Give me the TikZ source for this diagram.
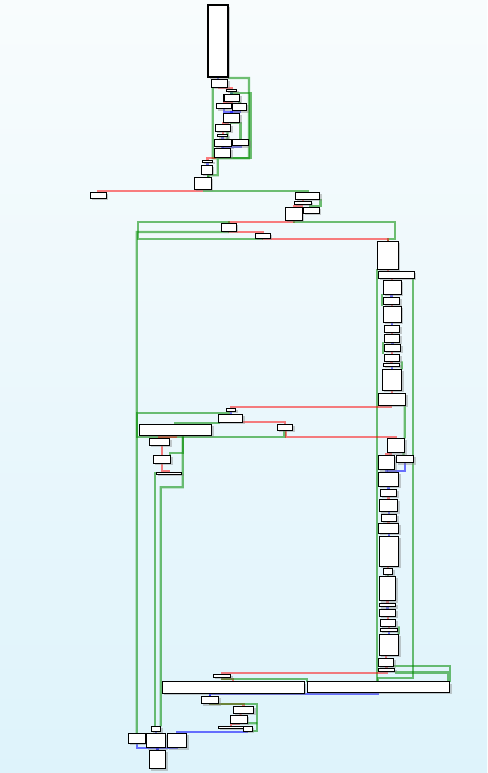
\documentclass[tikz,border=0pt]{standalone}
\usetikzlibrary{shadows}
\definecolor{bgtop}{RGB}{248,252,253}
\definecolor{bgbot}{RGB}{222,243,251}
\definecolor{tkgreen}{RGB}{0,140,0}
\definecolor{ntred}{RGB}{255,0,0}
\definecolor{jpblue}{RGB}{0,0,255}
\pgfdeclarelayer{back}
\pgfdeclarelayer{wires}
\pgfsetlayers{back,wires,main}
\begin{document}
\begin{tikzpicture}[x=1mm,y=-1mm,
  bb/.style={draw=black, line width=1.1mm, fill=white, inner sep=0pt, outer sep=0pt, anchor=north west,
    drop shadow={shadow xshift=2mm, shadow yshift=-2mm, opacity=0.4}},
  jt/.style={draw=tkgreen, draw opacity=0.55, line width=2.3mm},
  jf/.style={draw=ntred, draw opacity=0.5, line width=2.3mm},
  jb/.style={draw=jpblue, draw opacity=0.55, line width=2.3mm}]

% Background and size
\begin{pgfonlayer}{back}
\shade[top color=bgtop, bottom color=bgbot] (0,0) rectangle (487,773);
\end{pgfonlayer}
\useasboundingbox (0,0) rectangle (487,773);

% Draw the blocks
\node[bb, minimum width=20mm, minimum height=72mm] (b1) at (208,5) {};
\node[bb, minimum width=16.4mm, minimum height=8mm] (b2) at (211.3,79.3) {};
\node[bb, minimum width=10.4mm, minimum height=2mm] (b3) at (226.3,89.3) {};
\node[bb, minimum width=15.7mm, minimum height=7.4mm] (b4) at (224,94.3) {};
\node[bb, minimum width=15mm, minimum height=5.4mm] (b5) at (216.3,103.3) {};
\node[bb, minimum width=14.4mm, minimum height=7.4mm] (b6) at (232.3,103.3) {};
\node[bb, minimum width=16.4mm, minimum height=9mm] (b7) at (223.3,113.3) {};
\node[bb, minimum width=15.4mm, minimum height=7mm] (b8) at (215.3,124.3) {};
\node[bb, minimum width=10.4mm, minimum height=2.4mm] (b9) at (217.3,134.3) {};
\node[bb, minimum width=17.4mm, minimum height=7.4mm] (b10) at (214.3,139.3) {};
\node[bb, minimum width=16.4mm, minimum height=6.4mm] (b11) at (232.3,139.3) {};
\node[bb, minimum width=16.4mm, minimum height=9mm] (b12) at (214.3,148.3) {};
\node[bb, minimum width=10.4mm, minimum height=2mm] (b13) at (202.3,160.3) {};
\node[bb, minimum width=11mm, minimum height=9mm] (b14) at (201.3,165.3) {};
\node[bb, minimum width=17mm, minimum height=12mm] (b15) at (194.3,177.3) {};
\node[bb, minimum width=16mm, minimum height=6mm] (b16) at (90.3,192.3) {};
\node[bb, minimum width=24.2mm, minimum height=7mm] (b17) at (295.3,192.3) {};
\node[bb, minimum width=17mm, minimum height=3mm] (b18) at (294.3,201.3) {};
\node[bb, minimum width=17mm, minimum height=13mm] (b19) at (285.3,207.3) {};
\node[bb, minimum width=16mm, minimum height=6mm] (b20) at (303.3,207.3) {};
\node[bb, minimum width=15mm, minimum height=8mm] (b21) at (221.3,223.3) {};
\node[bb, minimum width=15mm, minimum height=5mm] (b22) at (255.3,233.3) {};
\node[bb, minimum width=21mm, minimum height=28mm] (b23) at (377.3,241.3) {};
\node[bb, minimum width=36mm, minimum height=7mm] (b24) at (378.3,271.3) {};
\node[bb, minimum width=18mm, minimum height=14mm] (b25) at (383.3,280.3) {};
\node[bb, minimum width=16.4mm, minimum height=7mm] (b26) at (383.3,297.3) {};
\node[bb, minimum width=18mm, minimum height=16mm] (b27) at (383.3,306.3) {};
\node[bb, minimum width=15.4mm, minimum height=7mm] (b28) at (384.3,325.3) {};
\node[bb, minimum width=15.4mm, minimum height=8mm] (b29) at (384.3,334.3) {};
\node[bb, minimum width=16.4mm, minimum height=7mm] (b30) at (384.3,344.3) {};
\node[bb, minimum width=15.4mm, minimum height=7mm] (b31) at (384.3,354.3) {};
\node[bb, minimum width=16.4mm, minimum height=3mm] (b32) at (383.3,363.3) {};
\node[bb, minimum width=19.4mm, minimum height=21mm] (b33) at (382.3,369.3) {};
\node[bb, minimum width=27.4mm, minimum height=12mm] (b34) at (378.3,393.3) {};
\node[bb, minimum width=17.4mm, minimum height=14.4mm] (b35) at (387.3,438.3) {};
\node[bb, minimum width=9.4mm, minimum height=3mm] (b36) at (226.3,408.3) {};
\node[bb, minimum width=24.4mm, minimum height=8mm] (b37) at (218.3,414.3) {};
\node[bb, minimum width=72.4mm, minimum height=11mm] (b38) at (139.3,424.3) {};
\node[bb, minimum width=15.4mm, minimum height=6mm] (b39) at (277.3,424.3) {};
\node[bb, minimum width=20.4mm, minimum height=7mm] (b40) at (149.3,438.3) {};
\node[bb, minimum width=17.4mm, minimum height=8mm] (b41) at (153.3,455.3) {};
\node[bb, minimum width=25.4mm, minimum height=2mm] (b42) at (156.3,472.3) {};
\node[bb, minimum width=16.4mm, minimum height=14.4mm] (b43) at (378.3,455.3) {};
\node[bb, minimum width=17.4mm, minimum height=7.4mm] (b44) at (396.3,455.3) {};
\node[bb, minimum width=20.4mm, minimum height=14mm] (b45) at (378.3,472.3) {};
\node[bb, minimum width=16.4mm, minimum height=7mm] (b46) at (380.3,489.3) {};
\node[bb, minimum width=18.4mm, minimum height=12.4mm] (b47) at (379.3,499.3) {};
\node[bb, minimum width=15.4mm, minimum height=7.4mm] (b63) at (381.3,514.3) {};
\node[bb, minimum width=20.4mm, minimum height=10mm] (b64) at (378.3,523.3) {};
\node[bb, minimum width=19.4mm, minimum height=30mm] (b65) at (379.3,536.3) {};
\node[bb, minimum width=9.4mm, minimum height=6mm] (b66) at (383.3,568.3) {};
\node[bb, minimum width=16.4mm, minimum height=24.4mm] (b67) at (379.3,576.3) {};
\node[bb, minimum width=16.4mm, minimum height=3.4mm] (b68) at (379.3,603.3) {};
\node[bb, minimum width=16.4mm, minimum height=7mm] (b69) at (379.3,609.3) {};
\node[bb, minimum width=15.4mm, minimum height=7mm] (b70) at (380.3,619.3) {};
\node[bb, minimum width=17.4mm, minimum height=3mm] (b71) at (380.3,628.3) {};
\node[bb, minimum width=19.4mm, minimum height=21mm] (b72) at (379.3,634.3) {};
\node[bb, minimum width=15.4mm, minimum height=8mm] (b61) at (378.3,658.3) {};
\node[bb, minimum width=16.4mm, minimum height=3mm] (b62) at (378.3,668.3) {};
\node[bb, minimum width=17.4mm, minimum height=3mm] (b49) at (213.3,674.3) {};
\node[bb, minimum width=142mm, minimum height=11.6mm] (b50) at (162.3,681.7) {};
\node[bb, minimum width=142.4mm, minimum height=10.6mm] (b51) at (307.3,681.7) {};
\node[bb, minimum width=17.4mm, minimum height=7.4mm] (b52) at (201.3,696.3) {};
\node[bb, minimum width=20.4mm, minimum height=7mm] (b53) at (233.3,706.3) {};
\node[bb, minimum width=17mm, minimum height=8mm] (b54) at (230.3,715.3) {};
\node[bb, minimum width=25mm, minimum height=2mm] (b55) at (218.3,726.3) {};
\node[bb, minimum width=9mm, minimum height=5mm] (b56) at (243.3,726.3) {};
\node[bb, minimum width=9.4mm, minimum height=5.4mm] (b48) at (151.3,726.3) {};
\node[bb, minimum width=17mm, minimum height=10mm] (b57) at (128.3,733.3) {};
\node[bb, minimum width=19.4mm, minimum height=14.4mm] (b58) at (146.3,733.3) {};
\node[bb, minimum width=19.4mm, minimum height=14.4mm] (b59) at (167.3,733.3) {};
\node[bb, minimum width=16.4mm, minimum height=18.4mm] (b60) at (149.3,750.3) {};

% Draw the jumps
\begin{pgfonlayer}{wires}
% top cluster
\coordinate (j1) at (217.7,158.3);
\draw[jb] (b1.south) -- (b1.south |- b2.north);
\draw[jt] (b1.south east) ++(0,1) -- (249,78) -- (249,158.3) -- (j1) |- (208.3,175.3) -- ([xshift=5.5mm]b15.north);
\draw[jt] ([xshift=1.4mm]b2.south west) -- (212.7,158.3) -- (j1);
\draw[jf] (b2.south) |- ([yshift=1mm]b3.north) -- (b3.north);
\draw[jb] (b3.south) -- (b3.south |- b4.north);
\draw[jt] (b3.south) |- (250.5,93.3) -- (250.5,158.3) -- (j1);
\draw[jf] (b4.south) |- ([yshift=0.8mm]b5.north) -- (b5.north);
\draw[jt] (b6.north |- b4.south) -- (b6.north);
\draw[jb] (b5.south) |- ([yshift=1.6mm]b7.north) -- (b7.north);
\draw[jb] (b6.south) |- ([yshift=1.6mm]b7.north) -- (b7.north);
\draw[jf] ([xshift=-4mm]b7.south) |- ([yshift=1mm]b8.north) -- (b8.north);
\draw[jt] (b7.south) |- ([yshift=16mm]b11.north) -- (b11.north);
\draw[jf] (b8.south) -- (b8.south |- b9.north);
\draw[jt] ([xshift=4.5mm]b8.south) -- ([xshift=4.5mm]b10.north);
\draw[jb] (b9.south) -- (b9.south |- b10.north);
\draw[jb] (b10.south) -- (b10.south |- b12.north);
\draw[jb] (b11.south) |- ([yshift=1mm]b12.north) -- (b12.north);
\draw[jf] ([xshift=1mm]b12.south west) |- ([yshift=2mm]b13.north) -- (b13.north);
\draw[jb] (b13.south) -- (b13.south |- b14.north);
\draw[jt] ([xshift=1.5mm]b14.south) -- ([xshift=5.5mm]b15.north);
% middle
\draw[jf] ([xshift=-1mm]b15.south) |- ([yshift=1.6mm]b16.north) -- (b16.north);
\draw[jt] ([xshift=1.5mm]b15.south) |- ([yshift=1.6mm]b17.north) -- (b17.north);
\draw[jf] (b18.north |- b17.south) -- (b18.north);
\draw[jt] ([xshift=1mm]b17.south east) |- ([xshift=-1.3mm,yshift=1.3mm]b20.north) -- ([xshift=-1.3mm]b20.north);
\draw[jf] ([xshift=-1mm]b18.south) |- ([yshift=1.3mm]b19.north) -- (b19.north);
\draw[jf] (b19.south) |- ([yshift=1.3mm]b21.north) -- (b21.north);
\draw[jt] (b19.south) |- (395,222) |- ([yshift=2.6mm]b23.north) -- (b23.north);
\draw[jf] (b21.south) |- ([yshift=1.3mm]b22.north) -- (b22.north);
\draw[jf] (b22.south) |- ([yshift=2.6mm]b23.north) -- (b23.north);
\draw[jt] ([xshift=-1mm]b22.south) |- (138.3,238.7) |- ([yshift=1.3mm]b21.north) -- (b21.north);
\draw[jt] ([xshift=-1mm]b21.south) |- (136.8,232) -- (b57.north);
% right column
\draw[jf] (b23.south) -- (b23.south |- b24.north);
\draw[jt] (b23.south west) -- (b23.south west |- b51.north);
\draw[jt] ([xshift=-1mm]b24.south east) |- ([xshift=71mm,yshift=3.4mm]b51.north west) -- ([xshift=71mm]b51.north west);
\draw[jf] (b25.north |- b24.south) -- (b25.north);
\draw[jb] (b26.north |- b25.south) -- (b26.north);
\draw[jf] (b27.north |- b26.south) -- (b27.north);
\draw[jb] (b28.north |- b27.south) -- (b28.north);
\draw[jf] (b29.north |- b28.south) -- (b29.north);
\draw[jb] (b30.north |- b29.south) -- (b30.north);
\draw[jf] (b31.north |- b30.south) -- (b31.north);
\draw[jf] (b32.north |- b31.south) -- (b32.north);
\draw[jb] (b33.north |- b32.south) -- (b33.north);
\draw[jf] (b34.north |- b33.south) -- (b34.north);
\draw[jt] ([xshift=-1mm]b25.south west) -- ([xshift=-1mm]b27.north west);
\draw[jt] ([xshift=-1mm]b29.south west) -- ([xshift=-1mm]b31.north west);
\draw[jt] ([xshift=2mm]b31.south east) -- (b33.north east);
% middle loop
\draw[jf] ([xshift=-1.3mm]b34.south) |- ([yshift=1.6mm]b36.north) -- (b36.north);
\draw[jt] ([xshift=-1mm]b34.south east) -- (b35.north east);
\draw[jb] (b36.south) -- (b36.south |- b37.north);
\draw[jf] ([yshift=0.5mm]b37.south east) -| (b39.north);
\draw[jt] ([xshift=1mm]b37.south west) |- ([yshift=1mm]b38.north) -- (b38.north);
\draw[jt] ([xshift=-0.5mm]b39.south) |- (137.3,436.7) |- ([xshift=-1.5mm,yshift=1mm]b37.north) -- ([xshift=-1.5mm]b37.north);
\draw[jf] ([xshift=1mm]b39.south) |- ([yshift=1.6mm]b35.north) -- (b35.north);
\draw[jf] (b38.south) |- ([yshift=1.5mm]b40.north) -- (b40.north);
\draw[jt] ([xshift=7.2mm]b38.south) |- ([xshift=8.2mm,yshift=2mm]b41.north) -- ([xshift=8.2mm]b41.north);
\draw[jt] ([xshift=7.2mm]b38.south) |- (160.7,487.3) -- ([xshift=4.7mm]b48.north);
\draw[jf] (b41.north |- b40.south) -- (b41.north);
\draw[jf] (b41.south) |- ([yshift=1.3mm]b42.north) -- (b42.north);
\draw[jt] (b42.west) -| ([xshift=-1mm]b48.north);
% right column, lower part
\draw[jf] ([xshift=-5mm]b35.south) |- ([yshift=1.3mm]b43.north) -- (b43.north);
\draw[jt] ([xshift=7.5mm]b35.south) -- ([xshift=-1.5mm]b44.north);
\draw[jb] (b43.south) -- (b43.south |- b45.north);
\draw[jb] (b44.south) |- ([yshift=1mm]b45.north) -- (b45.north);
\draw[jb] (b46.north |- b45.south) -- (b46.north);
\draw[jf] (b47.north |- b46.south) -- (b47.north);
\draw[jb] (b63.north |- b47.south) -- (b63.north);
\draw[jf] (b64.north |- b63.south) -- (b64.north);
\draw[jb] (b65.north |- b64.south) -- (b65.north);
\draw[jf] (b66.north |- b65.south) -- (b66.north);
\draw[jt] (b66.south) -- (b66.south |- b67.north);
\draw[jf] (b68.north |- b67.south) -- (b68.north);
\draw[jb] (b69.north |- b68.south) -- (b69.north);
\draw[jf] (b70.north |- b69.south) -- (b70.north);
\draw[jf] (b71.north |- b70.south) -- (b71.north);
\draw[jb] (b72.north |- b71.south) -- (b72.north);
\draw[jf] (b61.north |- b72.south) -- (b61.north);
\draw[jf] (b62.north |- b61.south) -- (b62.north);
\draw[jt] ([xshift=3mm]b70.south east) -- (b72.north east);
% bottom
\draw[jf] (b62.south) |- ([yshift=1.6mm]b49.north) -- (b49.north);
\draw[jt] (b61.south east) -| (b51.north east);
\draw[jt] (b62.south east) ++(0,1.3) -| ([xshift=-1.4mm]b51.north east);
\draw[jf] (b49.south) |- ([yshift=2.7mm]b50.north) -- (b50.north);
\draw[jt] (b49.south) |- ([yshift=2.7mm]b51.north west) -- (b51.north west);
\draw[jb] ([xshift=71mm]b51.south west) |- ([yshift=2mm]b52.north) -- (b52.north);
\draw[jb] (b52.north |- b50.south) -- (b52.north);
\draw[jf] (b52.south) |- ([yshift=2mm]b53.north) -- (b53.north);
\draw[jt] (b52.south) |- (257.3,704.3) |- (b56.south east);
\coordinate (jr) at (257.3,723.3);
\draw[jt] (b54.south east) -- (jr);
\draw[jf] ([xshift=-3mm]b53.south) -- ([xshift=1.7mm]b54.north);
\draw[jf] (b54.south) |- ([yshift=2mm]b55.north) -- (b55.north);
\draw[jb] ([xshift=-1mm]b56.south) |- ([yshift=1.6mm]b59.north) -- (b59.north);
\draw[jb] (b48.south) -- (b48.south |- b58.north);
\draw[jb] (b57.south) |- ([yshift=2mm]b60.north) -- (b60.north);
\draw[jb] (b59.south) |- ([yshift=2mm]b60.north) -- (b60.north);
\draw[jb] (b60.north |- b58.south) -- (b60.north);
\end{pgfonlayer}
\end{tikzpicture}
\end{document}
